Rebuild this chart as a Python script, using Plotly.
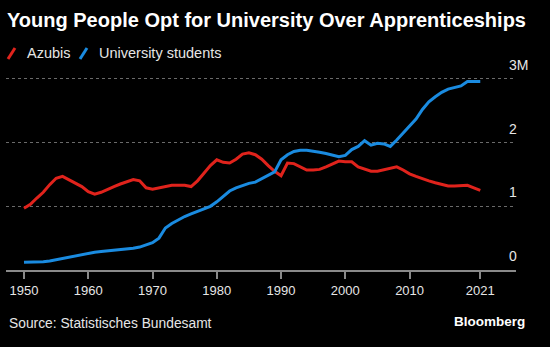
import plotly.graph_objects as go

years = list(range(1950, 2022))
azubis = [0.97, 1.03, 1.13, 1.22, 1.34, 1.44, 1.47, 1.42, 1.37, 1.31,
          1.23, 1.19, 1.22, 1.27, 1.31, 1.35, 1.39, 1.42, 1.40, 1.29,
          1.27, 1.29, 1.31, 1.33, 1.33, 1.33, 1.31, 1.40, 1.52, 1.64,
          1.73, 1.69, 1.68, 1.74, 1.82, 1.84, 1.81, 1.74, 1.64, 1.55,
          1.48, 1.68, 1.67, 1.62, 1.57, 1.57, 1.58, 1.62, 1.67, 1.71,
          1.70, 1.70, 1.62, 1.58, 1.55, 1.55, 1.57, 1.60, 1.62, 1.57,
          1.51, 1.47, 1.43, 1.40, 1.37, 1.34, 1.32, 1.32, 1.33, 1.33,
          1.29, 1.25]
university = [0.12, 0.12, 0.12, 0.13, 0.14, 0.16, 0.18, 0.20, 0.22, 0.25,
              0.27, 0.28, 0.29, 0.30, 0.30, 0.31, 0.33, 0.34, 0.36, 0.39,
              0.43, 0.50, 0.66, 0.73, 0.79, 0.84, 0.88, 0.92, 0.96, 1.00,
              1.07, 1.16, 1.24, 1.29, 1.33, 1.36, 1.38, 1.43, 1.49, 1.54,
              1.73, 1.81, 1.86, 1.88, 1.88, 1.87, 1.85, 1.83, 1.81, 1.78,
              1.80, 1.89, 1.94, 2.03, 1.96, 1.99, 1.98, 1.94, 2.04, 2.15,
              2.25, 2.37, 2.52, 2.64, 2.72, 2.79, 2.84, 2.87, 2.89, 2.96,
              2.96, 2.96]

series_names = ["Azubis", "University students"]
series_colors = ["#e0231c", "#1a8be0"]

x_tickvals = [1950, 1960, 1970, 1980, 1990, 2000, 2010, 2021]
x_ticktext = ["1950", "1960", "1970", "1980", "1990", "2000", "2010", "2021"]
y_tickvals = [0, 1, 2, 3]
y_ticktext = ["0", "1", "2", "3M"]

W, H = 550, 347
ML, MR, MT, MB = 6, 34, 63, 77
PW, PH = W - ML - MR, H - MT - MB


def px(x):
    return (x - ML) / PW


def py(y):
    return (H - MB - y) / PH


TXT = "#e6e6e6"
FONT = "Liberation Sans"

fig = go.Figure()
fig.add_trace(go.Scatter(x=years, y=azubis, mode="lines", name=series_names[0],
                         line=dict(color=series_colors[0], width=3)))
fig.add_trace(go.Scatter(x=years, y=university, mode="lines", name=series_names[1],
                         line=dict(color=series_colors[1], width=3)))

annotations = []
for v, t in zip(y_tickvals, y_ticktext):
    annotations.append(dict(x=px(507), xref="paper", y=v, yref="y", text=t,
                            showarrow=False, xanchor="left", yanchor="middle",
                            yshift=14, font=dict(color=TXT, size=14, family=FONT)))

shapes = []
leg_x = [8, 80]
text_x = [25, 97]
for i, name in enumerate(series_names):
    shapes.append(dict(type="line", xref="paper", yref="paper",
                       x0=px(leg_x[i]), y0=py(59), x1=px(leg_x[i] + 7), y1=py(48),
                       line=dict(color=series_colors[i], width=3)))
    annotations.append(dict(x=px(text_x[i]), xref="paper", y=py(52.5), yref="paper",
                            text=name, showarrow=False, xanchor="left", yanchor="middle",
                            font=dict(color=TXT, size=14.5, family=FONT)))

annotations.append(dict(x=px(7), xref="paper", y=py(323), yref="paper",
                        text="Source: Statistisches Bundesamt", showarrow=False,
                        xanchor="left", yanchor="middle",
                        font=dict(color=TXT, size=13.8, family=FONT)))
annotations.append(dict(x=px(527), xref="paper", y=py(321), yref="paper",
                        text="<b>Bloomberg</b>", showarrow=False,
                        xanchor="right", yanchor="middle",
                        font=dict(color="#ffffff", size=13.5, family=FONT)))

fig.update_layout(
    width=W, height=H,
    margin=dict(l=ML, r=MR, t=MT, b=MB, pad=0),
    paper_bgcolor="#000000", plot_bgcolor="#000000",
    showlegend=False,
    title=dict(text="<b>Young People Opt for University Over Apprenticeships</b>",
               x=7 / W, xanchor="left", xref="container",
               y=1 - 19.5 / H, yanchor="middle", yref="container",
               font=dict(color="#ffffff", size=20, family=FONT)),
    xaxis=dict(range=[1947.2, 2026.56], tickvals=x_tickvals, ticktext=x_ticktext,
               showgrid=False, zeroline=False, showline=True, linecolor="#8a8a8a",
               linewidth=2, ticks="outside", ticklen=7, tickwidth=1.5,
               tickcolor="#8a8a8a", tickfont=dict(color=TXT, size=13, family=FONT)),
    yaxis=dict(range=[0, 3.25], tickvals=y_tickvals[1:], showticklabels=False,
               showgrid=True, gridcolor="#6a6a6a", griddash="dot", gridwidth=1,
               zeroline=False, showline=False),
    annotations=annotations,
    shapes=shapes,
)

fig.write_html("out.html")
